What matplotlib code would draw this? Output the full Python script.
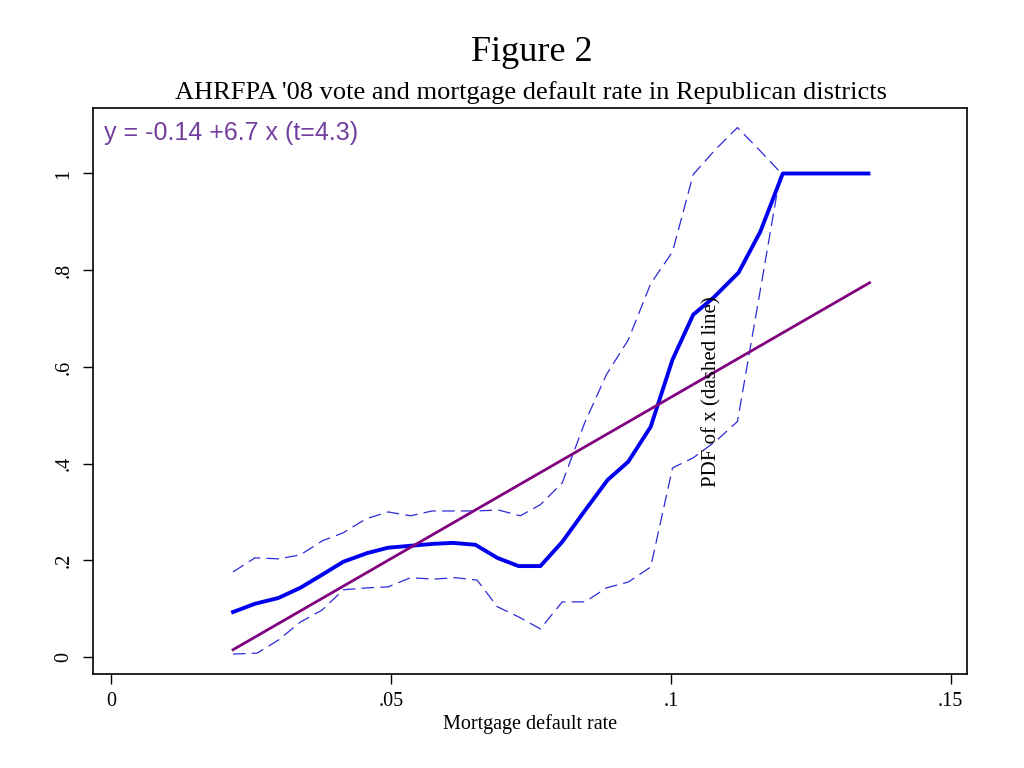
import matplotlib
matplotlib.use("Agg")
import matplotlib.pyplot as plt

plt.rcParams['font.family'] = ['Liberation Serif', 'DejaVu Serif']
plt.rcParams['lines.scale_dashes'] = False

# local mean of the vote (solid) and the PDF of x (dashed)
x_mean = [0.0218, 0.0257, 0.0299, 0.0338, 0.0377, 0.0415, 0.0458, 0.0495, 0.0535,
          0.0576, 0.0611, 0.0651, 0.0690, 0.0728, 0.0767, 0.0806, 0.0846, 0.0887,
          0.0924, 0.0964, 0.1003, 0.1040, 0.1076, 0.1121, 0.1160, 0.1200, 0.1353]
y_mean = [0.093, 0.110, 0.122, 0.143, 0.170, 0.197, 0.215, 0.226, 0.230,
          0.234, 0.236, 0.232, 0.205, 0.188, 0.188, 0.238, 0.302, 0.366,
          0.404, 0.476, 0.615, 0.708, 0.743, 0.795, 0.880, 1.000, 1.000]

x_upper = [0.0218, 0.0257, 0.0299, 0.0338, 0.0377, 0.0415, 0.0456, 0.0495, 0.0535,
           0.0574, 0.0613, 0.0652, 0.0692, 0.0731, 0.0767, 0.0806, 0.0846, 0.0885,
           0.0924, 0.0964, 0.1003, 0.1040, 0.1080, 0.1119, 0.1157, 0.1196]
y_upper = [0.176, 0.205, 0.203, 0.211, 0.240, 0.257, 0.286, 0.300, 0.292,
           0.302, 0.302, 0.302, 0.304, 0.292, 0.315, 0.360, 0.484, 0.584,
           0.656, 0.772, 0.838, 0.998, 1.050, 1.095, 1.050, 1.002]

x_lower = [0.0218, 0.0261, 0.0299, 0.0338, 0.0377, 0.0415, 0.0458, 0.0495, 0.0535,
           0.0576, 0.0615, 0.0654, 0.0690, 0.0728, 0.0767, 0.0806, 0.0847, 0.0885,
           0.0924, 0.0964, 0.1003, 0.1040, 0.1081, 0.1119, 0.1160, 0.1196]
y_lower = [0.006, 0.008, 0.035, 0.072, 0.097, 0.139, 0.143, 0.145, 0.164,
           0.161, 0.164, 0.159, 0.104, 0.083, 0.058, 0.114, 0.114, 0.143,
           0.155, 0.186, 0.391, 0.412, 0.447, 0.487, 0.760, 1.002]

# linear fit endpoints
fit_x = [0.0218, 0.1355]
fit_y = [0.015, 0.774]

xticks = [0, 0.05, 0.1, 0.15]
xtick_labels = ['0', '.05', '.1', '.15']
yticks = [0, 0.2, 0.4, 0.6, 0.8, 1.0]
ytick_labels = ['0', '.2', '.4', '.6', '.8', '1']

fig = plt.figure(figsize=(10.24, 7.68), dpi=100)
ax = fig.add_axes([0.0908, 0.1224, 0.8535, 0.7370])

ax.plot(x_upper, y_upper, color='#2a2ad8', lw=0.9, dashes=(9, 4.5))
ax.plot(x_lower, y_lower, color='#2a2ad8', lw=0.9, dashes=(9, 4.5))
ax.plot(x_mean, y_mean, color='#0000ee', lw=2.8)
ax.plot(fit_x, fit_y, color='#800080', lw=2.0)

ax.set_xlim(-0.00322, 0.1529)
ax.set_ylim(-0.0352, 1.1355)
ax.set_xticks(xticks)
ax.set_xticklabels(xtick_labels, fontsize=14.5)
ax.set_yticks(yticks)
ax.set_yticklabels(ytick_labels, fontsize=14.5, rotation=90, va='center')
ax.tick_params(axis='both', direction='out', length=7, width=1, pad=6)
ax.tick_params(axis='y', pad=7)
for s in ax.spines.values():
    s.set_linewidth(1.2)

ax.set_xlabel('Mortgage default rate', fontsize=14.5, labelpad=2)

ax.text(0.1074, 0.548, 'PDF of x (dashed line)', rotation=90, ha='center', va='center',
        fontsize=15)
ax.text(0.0126, 0.956, 'y = -0.14 +6.7 x (t=4.3)', family=['Liberation Sans', 'DejaVu Sans'],
        fontsize=18, color='#7340a0', ha='left', va='center', transform=ax.transAxes)

fig.text(0.519, 0.932, 'Figure 2', ha='center', va='center', fontsize=26)
fig.text(0.519, 0.879, "AHRFPA '08 vote and mortgage default rate in Republican districts",
         ha='center', va='center', fontsize=19)

fig.savefig('out.png', dpi=100)
